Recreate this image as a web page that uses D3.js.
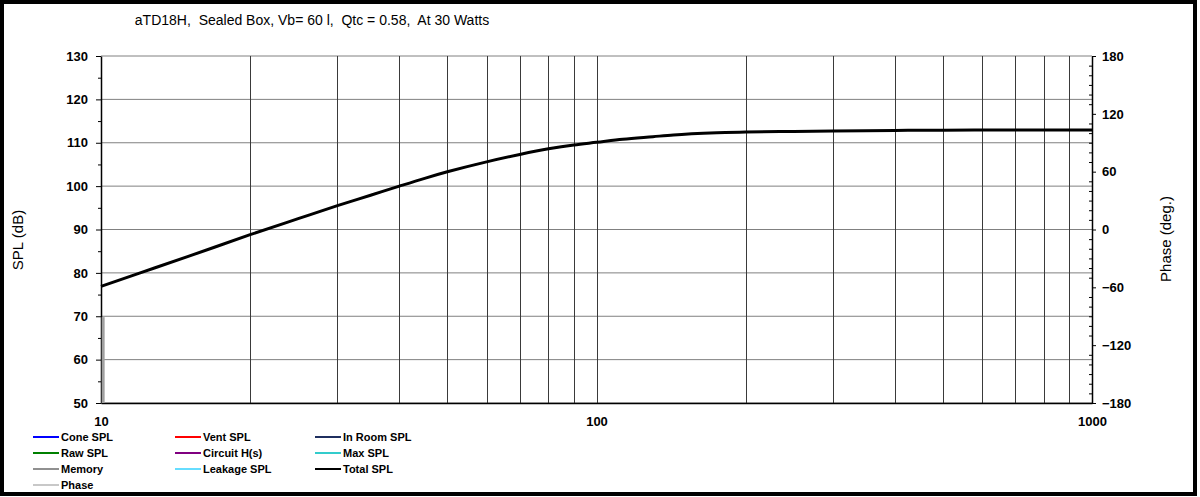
<!DOCTYPE html>
<html>
<head>
<meta charset="utf-8">
<script src="https://cdn.jsdelivr.net/npm/d3@7"></script>
<style>
  body { margin: 0; background: #fff; }
  text { font-family: Arial, "Liberation Sans", sans-serif; }
</style>
</head>
<body>
<div id="chart"></div>
<script>
// Chart data
var freq = [10, 12, 15, 20, 25, 30, 35, 40, 45, 50, 60, 70, 80, 90, 100, 113, 130, 143, 175, 200, 250, 300, 400, 500, 700, 1000];
var totalSpl = [76.9, 80.0, 83.8, 88.8, 92.5, 95.5, 97.9, 100.0, 101.8, 103.3, 105.6, 107.3, 108.6, 109.5, 110.1, 110.8, 111.4, 111.8, 112.3, 112.5, 112.6, 112.7, 112.85, 112.9, 112.95, 112.95];
var memoryFreq = [10.1, 10.1];
var memorySpl = [69.8, 50];

var splTicks = [50, 60, 70, 80, 90, 100, 110, 120, 130];
var phaseTicks = [-180, -120, -60, 0, 60, 120, 180];
var freqLabels = [10, 100, 1000];

var legendNames = ["Cone SPL", "Vent SPL", "In Room SPL",
                   "Raw SPL", "Circuit H(s)", "Max SPL",
                   "Memory", "Leakage SPL", "Total SPL",
                   "Phase"];
var legendColors = ["#0000ff", "#ff0000", "#1f2f5f",
                    "#008000", "#800080", "#33cccc",
                    "#909090", "#66ddff", "#000000",
                    "#c8c8c8"];

var svgWidth = 1200;
var svgHeight = 497;
var margin = {top: 56, right: 108, bottom: 94, left: 101};
var width = svgWidth - margin.left - margin.right;
var height = svgHeight - margin.top - margin.bottom;

var svg = d3.select("#chart")
  .append("svg")
  .attr("width", svgWidth)
  .attr("height", svgHeight);

// outer frame
svg.append("rect")
  .attr("x", 2).attr("y", 2)
  .attr("width", 1193).attr("height", 492)
  .attr("fill", "#fff")
  .attr("stroke", "#000")
  .attr("stroke-width", 4);

svg.append("text")
  .attr("x", 312).attr("y", 25)
  .attr("text-anchor", "middle")
  .style("font-size", "14px")
  .style("white-space", "pre")
  .attr("xml:space", "preserve")
  .text("aTD18H,  Sealed Box, Vb= 60 l,  Qtc = 0.58,  At 30 Watts");

var chartGroup = svg.append("g")
  .attr("transform", `translate(${margin.left}, ${margin.top})`);

var x = d3.scaleLog().domain([10, 1000]).range([0, width]);
var y = d3.scaleLinear().domain([50, 130]).range([height, 0]);
var yPhase = d3.scaleLinear().domain([-180, 180]).range([height, 0]);

// horizontal grid
chartGroup.append("g")
  .selectAll("line")
  .data(splTicks)
  .enter()
  .append("line")
  .attr("x1", 0).attr("x2", width)
  .attr("y1", d => y(d)).attr("y2", d => y(d))
  .attr("stroke", "#808080")
  .attr("stroke-width", 1);

// vertical grid
chartGroup.append("g")
  .selectAll("line")
  .data(x.ticks().filter(d => d > 10 && d < 1000))
  .enter()
  .append("line")
  .attr("x1", d => Math.round(x(d)) + 0.5).attr("x2", d => Math.round(x(d)) + 0.5)
  .attr("y1", 0).attr("y2", height)
  .attr("stroke", "#3a3a3a")
  .attr("stroke-width", 1);

// left axis
var leftAxis = d3.axisLeft(y).tickValues(splTicks).tickSize(5).tickSizeOuter(0).tickPadding(8);
var gl = chartGroup.append("g").call(leftAxis);
gl.selectAll(".tick text").style("font-size", "13px").style("font-weight", "bold").attr("fill", "#000");
var leftMinor = d3.axisLeft(y).tickValues(d3.range(55, 130, 10)).tickSize(3).tickFormat("");
chartGroup.append("g").call(leftMinor).select(".domain").remove();

// right axis
var rightAxis = d3.axisRight(yPhase).tickValues(phaseTicks).tickSize(4).tickSizeOuter(0).tickPadding(6);
var gr = chartGroup.append("g").attr("transform", `translate(${width}, 0)`).call(rightAxis);
gr.selectAll(".tick text").style("font-size", "13px").style("font-weight", "bold").attr("fill", "#000");
var rightMinor = d3.axisLeft(yPhase)
  .tickValues(d3.range(-170, 180, 10).filter(d => d % 60 !== 0))
  .tickSize(3).tickFormat("");
chartGroup.append("g").attr("transform", `translate(${width}, 0)`).call(rightMinor).select(".domain").remove();

// bottom axis
var bottomAxis = d3.axisBottom(x).tickValues(freqLabels).tickSize(0).tickPadding(14).tickFormat(d3.format("d"));
var gb = chartGroup.append("g").attr("transform", `translate(0, ${height})`).call(bottomAxis);
gb.selectAll(".tick text").style("font-size", "13px").style("font-weight", "bold").attr("fill", "#000");

chartGroup.selectAll(".domain").attr("stroke", "#000").attr("stroke-width", 1.5);

// memory trace
var memData = memoryFreq.map((f, i) => ({f: f, v: memorySpl[i]}));
chartGroup.append("path")
  .datum(memData)
  .attr("fill", "none")
  .attr("stroke", "#a0a0a0")
  .attr("stroke-width", 3)
  .attr("d", d3.line().x(d => x(d.f)).y(d => y(d.v)));

// total SPL
var splData = freq.map((f, i) => ({f: f, v: totalSpl[i]}));
chartGroup.append("path")
  .datum(splData)
  .attr("fill", "none")
  .attr("stroke", "#000")
  .attr("stroke-width", 3)
  .attr("d", d3.line().curve(d3.curveMonotoneX).x(d => x(d.f)).y(d => y(d.v)));

// axis titles
svg.append("text")
  .attr("transform", "translate(23, 240) rotate(-90)")
  .attr("text-anchor", "middle")
  .style("font-size", "15px")
  .text("SPL (dB)");

svg.append("text")
  .attr("transform", "translate(1171, 239) rotate(-90)")
  .attr("text-anchor", "middle")
  .style("font-size", "15px")
  .text("Phase (deg.)");

// legend
var colX = [33, 175, 315];
var legend = svg.append("g")
  .selectAll("g")
  .data(legendNames)
  .enter()
  .append("g")
  .attr("transform", (d, i) => `translate(${colX[i % 3]}, ${437 + Math.floor(i / 3) * 16})`);

legend.append("line")
  .attr("x1", 0).attr("x2", 26)
  .attr("y1", 0).attr("y2", 0)
  .attr("stroke", (d, i) => legendColors[i])
  .attr("stroke-width", 2);

legend.append("text")
  .attr("x", 28).attr("y", 4)
  .style("font-size", "11px")
  .style("font-weight", "bold")
  .text(d => d);
</script>
</body>
</html>
